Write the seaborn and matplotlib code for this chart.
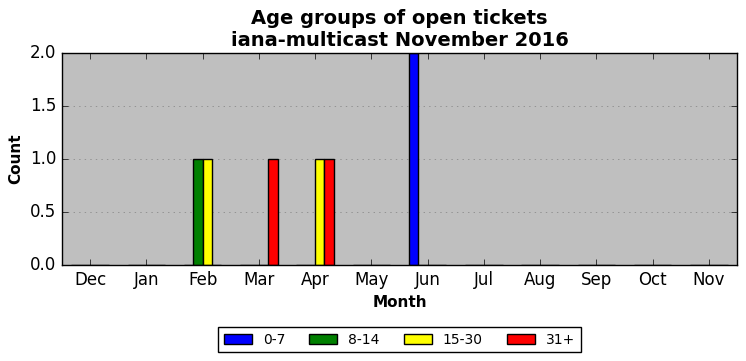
import numpy as np
import pandas as pd
import matplotlib
matplotlib.use("Agg")
import matplotlib.pyplot as plt
import seaborn as sns

months = ["Dec", "Jan", "Feb", "Mar", "Apr", "May", "Jun", "Jul", "Aug", "Sep", "Oct", "Nov"]
groups = ["0-7", "8-14", "15-30", "31+"]
colors = ["blue", "green", "yellow", "red"]

age_0_7 = [0, 0, 0, 0, 0, 0, 2, 0, 0, 0, 0, 0]
age_8_14 = [0, 0, 1, 0, 0, 0, 0, 0, 0, 0, 0, 0]
age_15_30 = [0, 0, 1, 0, 1, 0, 0, 0, 0, 0, 0, 0]
age_31 = [0, 0, 0, 1, 1, 0, 0, 0, 0, 0, 0, 0]

rows = []
for g, vals in zip(groups, [age_0_7, age_8_14, age_15_30, age_31]):
    for m, v in zip(months, vals):
        rows.append({"Month": m, "Group": g, "Count": v})
df = pd.DataFrame(rows)

plt.style.use("classic")
fig = plt.figure(figsize=(7.46, 3.61), dpi=100, facecolor="white")
ax = fig.add_axes([0.083, 0.266, 0.905, 0.587])
ax.set_facecolor("#bfbfbf")

sns.barplot(data=df, x="Month", y="Count", hue="Group", order=months,
            hue_order=groups, palette=colors, width=2/3, edgecolor="black",
            linewidth=1, saturation=1, ax=ax, errorbar=None)

ax.set_xlim(-0.5, 11.5)
ax.set_ylim(0, 2)
ax.set_yticks([0, 0.5, 1.0, 1.5, 2.0])
ax.yaxis.grid(True, linestyle=":", color="gray")
ax.xaxis.grid(False)
ax.set_axisbelow(True)
ax.set_xlabel("Month", fontweight="bold", fontsize=11)
ax.set_ylabel("Count", fontweight="bold", fontsize=11)
ax.set_title("Age groups of open tickets\niana-multicast November 2016",
             fontweight="bold", fontsize=14)
ax.tick_params(labelsize=12)

ax.legend(loc="upper center", bbox_to_anchor=(0.5, -0.26), ncol=4,
          fontsize=10, fancybox=False, frameon=True, edgecolor="black",
          columnspacing=1.75)

fig.savefig("out.png", dpi=100, facecolor="white")
